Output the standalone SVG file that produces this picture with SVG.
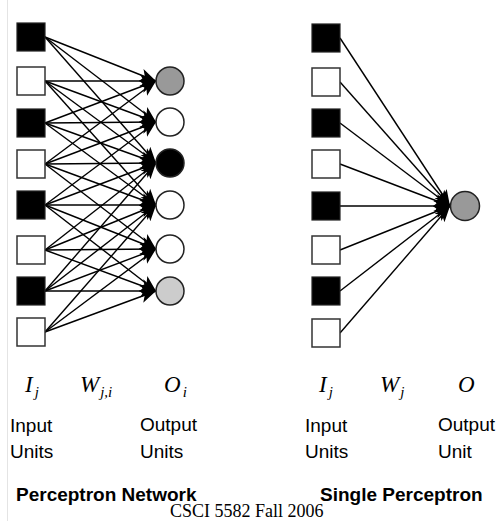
<svg xmlns="http://www.w3.org/2000/svg" width="497" height="521" viewBox="0 0 497 521">
<style>
.sqb{fill:#000;stroke:#222;stroke-width:1.2}
.sqw{fill:#fff;stroke:#333;stroke-width:1.5}
.out{stroke:#222;stroke-width:1.5}
.ln{stroke:#000;stroke-width:1.4;fill:none;marker-end:url(#ah)}
.it{font-family:"Liberation Serif","Times New Roman",serif;font-style:italic;font-size:23px;fill:#000}
.sub{font-size:15px}
.lb{font-family:"Liberation Sans",Arial,sans-serif;font-size:19px;fill:#000}
.tt{font-family:"Liberation Sans",Arial,sans-serif;font-size:19px;font-weight:bold;fill:#000}
.ft{font-family:"Liberation Serif","Times New Roman",serif;font-size:18px;fill:#000}
</style>
<defs>
<marker id="ah" markerUnits="userSpaceOnUse" markerWidth="18" markerHeight="16" refX="16" refY="8" orient="auto">
<path d="M0,1.5 L16,8 L0,14.5 L4,8 Z" fill="#000"/>
</marker>
</defs>
<rect width="497" height="521" fill="#fff"/>
<line x1="7.5" y1="0" x2="7.5" y2="521" stroke="#e4e4e4" stroke-width="1"/>
<g id="connectors">
<line class="ln" x1="45" y1="37" x2="156" y2="81"/>
<line class="ln" x1="45" y1="37" x2="156" y2="122"/>
<line class="ln" x1="45" y1="37" x2="156" y2="163"/>
<line class="ln" x1="45" y1="81" x2="156" y2="81"/>
<line class="ln" x1="45" y1="81" x2="156" y2="122"/>
<line class="ln" x1="45" y1="81" x2="156" y2="163"/>
<line class="ln" x1="45" y1="81" x2="156" y2="205"/>
<line class="ln" x1="45" y1="123" x2="156" y2="81"/>
<line class="ln" x1="45" y1="123" x2="156" y2="122"/>
<line class="ln" x1="45" y1="123" x2="156" y2="163"/>
<line class="ln" x1="45" y1="123" x2="156" y2="205"/>
<line class="ln" x1="45" y1="164" x2="156" y2="81"/>
<line class="ln" x1="45" y1="164" x2="156" y2="122"/>
<line class="ln" x1="45" y1="164" x2="156" y2="163"/>
<line class="ln" x1="45" y1="164" x2="156" y2="205"/>
<line class="ln" x1="45" y1="164" x2="156" y2="249"/>
<line class="ln" x1="45" y1="205" x2="156" y2="122"/>
<line class="ln" x1="45" y1="205" x2="156" y2="163"/>
<line class="ln" x1="45" y1="205" x2="156" y2="205"/>
<line class="ln" x1="45" y1="205" x2="156" y2="249"/>
<line class="ln" x1="45" y1="205" x2="156" y2="291"/>
<line class="ln" x1="45" y1="250" x2="156" y2="163"/>
<line class="ln" x1="45" y1="250" x2="156" y2="205"/>
<line class="ln" x1="45" y1="250" x2="156" y2="249"/>
<line class="ln" x1="45" y1="250" x2="156" y2="291"/>
<line class="ln" x1="45" y1="291" x2="156" y2="163"/>
<line class="ln" x1="45" y1="291" x2="156" y2="205"/>
<line class="ln" x1="45" y1="291" x2="156" y2="249"/>
<line class="ln" x1="45" y1="291" x2="156" y2="291"/>
<line class="ln" x1="45" y1="332" x2="156" y2="205"/>
<line class="ln" x1="45" y1="332" x2="156" y2="249"/>
<line class="ln" x1="45" y1="332" x2="156" y2="291"/>
<line class="ln" x1="340" y1="38" x2="450" y2="206"/>
<line class="ln" x1="340" y1="82" x2="450" y2="206"/>
<line class="ln" x1="340" y1="123" x2="450" y2="206"/>
<line class="ln" x1="340" y1="164" x2="450" y2="206"/>
<line class="ln" x1="340" y1="206" x2="450" y2="206"/>
<line class="ln" x1="340" y1="250" x2="450" y2="206"/>
<line class="ln" x1="340" y1="291" x2="450" y2="206"/>
<line class="ln" x1="340" y1="333" x2="450" y2="206"/>
</g>
<g id="net-inputs">
<rect id="in1" class="sqb" x="17" y="23" width="28" height="28"/>
<rect id="in2" class="sqw" x="17" y="67" width="28" height="28"/>
<rect id="in3" class="sqb" x="17" y="109" width="28" height="28"/>
<rect id="in4" class="sqw" x="17" y="150" width="28" height="28"/>
<rect id="in5" class="sqb" x="17" y="191" width="28" height="28"/>
<rect id="in6" class="sqw" x="17" y="236" width="28" height="28"/>
<rect id="in7" class="sqb" x="17" y="277" width="28" height="28"/>
<rect id="in8" class="sqw" x="17" y="318" width="28" height="28"/>
</g>
<g id="net-outputs">
<circle id="out1" class="out" cx="170" cy="81" r="14" fill="#999"/>
<circle id="out2" class="out" cx="170" cy="122" r="14" fill="#fff"/>
<circle id="out3" class="out" cx="170" cy="163" r="14" fill="#000"/>
<circle id="out4" class="out" cx="170" cy="205" r="14" fill="#fff"/>
<circle id="out5" class="out" cx="170" cy="249" r="14" fill="#fff"/>
<circle id="out6" class="out" cx="170" cy="291" r="14" fill="#ccc"/>
</g>
<g id="sp-inputs">
<rect id="sin1" class="sqb" x="312" y="24" width="28" height="28"/>
<rect id="sin2" class="sqw" x="312" y="68" width="28" height="28"/>
<rect id="sin3" class="sqb" x="312" y="109" width="28" height="28"/>
<rect id="sin4" class="sqw" x="312" y="150" width="28" height="28"/>
<rect id="sin5" class="sqb" x="312" y="192" width="28" height="28"/>
<rect id="sin6" class="sqw" x="312" y="236" width="28" height="28"/>
<rect id="sin7" class="sqb" x="312" y="277" width="28" height="28"/>
<rect id="sin8" class="sqw" x="312" y="319" width="28" height="28"/>
</g>
<g id="sp-output">
<circle id="sout" class="out" cx="465" cy="206" r="14.5" fill="#999"/>
</g>
<g id="labels-left">
<text class="it" x="25" y="392">I<tspan class="sub" dx="2" dy="5">j</tspan></text>
<text class="it" x="80" y="392">W<tspan class="sub" dx="1" dy="5">j,i</tspan></text>
<text class="it" x="164" y="392">O<tspan class="sub" dx="2" dy="5">i</tspan></text>
<text class="lb" x="10" y="432">Input</text>
<text class="lb" x="10" y="458">Units</text>
<text class="lb" x="140" y="431">Output</text>
<text class="lb" x="140" y="458">Units</text>
<text class="tt" x="16" y="501">Perceptron Network</text>
</g>
<g id="labels-right">
<text class="it" x="319" y="392">I<tspan class="sub" dx="2" dy="5">j</tspan></text>
<text class="it" x="380" y="392">W<tspan class="sub" dx="1" dy="5">j</tspan></text>
<text class="it" x="458" y="392">O</text>
<text class="lb" x="305" y="432">Input</text>
<text class="lb" x="305" y="458">Units</text>
<text class="lb" x="438" y="431">Output</text>
<text class="lb" x="438" y="458">Unit</text>
<text class="tt" x="320" y="501">Single Perceptron</text>
</g>
<text class="ft" x="170" y="517">CSCI 5582 Fall 2006</text>
</svg>
